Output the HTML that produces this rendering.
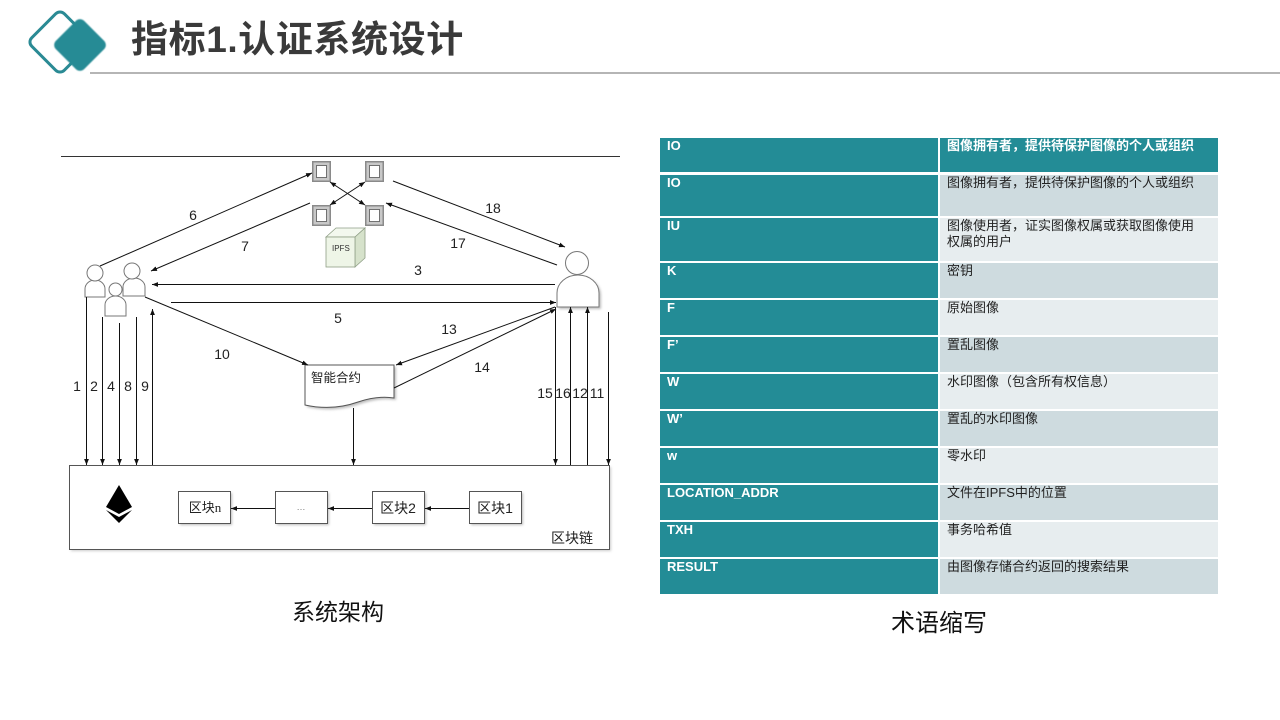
<!DOCTYPE html>
<html><head><meta charset="utf-8">
<style>
html,body{margin:0;padding:0;background:#fff;}
body{width:1280px;height:720px;position:relative;overflow:hidden;font-family:"Liberation Sans","Noto Sans CJK SC",sans-serif;}
.title{position:absolute;left:131px;top:16px;font-size:37px;font-weight:bold;color:#3a3a3a;font-family:"Liberation Sans","Noto Sans CJK SC",sans-serif;letter-spacing:0.6px;line-height:48px;white-space:nowrap;}
.hline{position:absolute;left:90px;top:72px;width:1190px;height:2px;background:#b5b5b5;}
.c1,.c2{position:absolute;box-sizing:border-box;font-size:13px;line-height:16px;}
.c1{left:660px;width:278px;background:#238c96;color:#fff;font-weight:bold;padding:0 0 0 7px;}
.c2{left:940px;width:278px;color:#222;padding:0 0 0 7px;}
.hd{background:#238c96;color:#fff;font-weight:bold;}
.dk{background:#cedbdf;}
.lt{background:#e7edef;}
.cap{position:absolute;font-size:23px;color:#111;line-height:30px;}
</style></head>
<body>
<svg width="1280" height="720" style="position:absolute;left:0;top:0" xmlns="http://www.w3.org/2000/svg">
<defs>
<marker id="a" viewBox="0 0 10 10" refX="10" refY="5" markerWidth="6" markerHeight="6" markerUnits="userSpaceOnUse" orient="auto-start-reverse"><path d="M0,1 L10,5 L0,9 z" fill="#111"/></marker>
<filter id="bl" x="-20%" y="-20%" width="140%" height="140%"><feGaussianBlur stdDeviation="0.6"/></filter>
<filter id="sh" x="-20%" y="-20%" width="140%" height="140%"><feGaussianBlur stdDeviation="1.2"/></filter>
</defs>
<!-- logo -->
<rect x="37" y="19" width="46" height="46" rx="6" transform="rotate(45 60 42)" fill="none" stroke="#2a8a94" stroke-width="3"/>
<rect x="60" y="25" width="40" height="40" rx="6" transform="rotate(45 80 45)" fill="#258b95" filter="url(#bl)"/>

<!-- top line -->
<line x1="61" y1="156.5" x2="620" y2="156.5" stroke="#333" stroke-width="1"/>

<!-- IPFS nodes -->
<g>
<g transform="translate(312,161)"><rect width="19" height="21" fill="#8a8a8a"/><rect x="1.5" y="1.5" width="16" height="18" fill="#c8c8c8"/><rect x="4.5" y="4.5" width="10" height="12" fill="#fff" stroke="#555" stroke-width="0.8"/></g>
<g transform="translate(365,161)"><rect width="19" height="21" fill="#8a8a8a"/><rect x="1.5" y="1.5" width="16" height="18" fill="#c8c8c8"/><rect x="4.5" y="4.5" width="10" height="12" fill="#fff" stroke="#555" stroke-width="0.8"/></g>
<g transform="translate(312,205)"><rect width="19" height="21" fill="#8a8a8a"/><rect x="1.5" y="1.5" width="16" height="18" fill="#c8c8c8"/><rect x="4.5" y="4.5" width="10" height="12" fill="#fff" stroke="#555" stroke-width="0.8"/></g>
<g transform="translate(365,205)"><rect width="19" height="21" fill="#8a8a8a"/><rect x="1.5" y="1.5" width="16" height="18" fill="#c8c8c8"/><rect x="4.5" y="4.5" width="10" height="12" fill="#fff" stroke="#555" stroke-width="0.8"/></g>
</g>
<!-- IPFS cube -->
<path d="M326,237 L336,228 L365,228 L355,237 Z" fill="#f3f8ee" stroke="#8f9f86" stroke-width="0.8"/>
<path d="M355,237 L365,228 L365,258 L355,267 Z" fill="#d6e2cb" stroke="#8f9f86" stroke-width="0.8"/>
<rect x="326" y="237" width="29" height="30" fill="#eef5e7" stroke="#8f9f86" stroke-width="0.8"/>
<text x="332" y="251" font-size="8" fill="#333" font-family="Liberation Sans, sans-serif">IPFS</text>

<!-- persons left -->
<g fill="#fff" stroke="#777" stroke-width="1">
<path d="M85,297 V289 A10 9 0 0 1 105,289 V297 Z" />
<circle cx="95" cy="273" r="8"/>
<path d="M123,296 V287 A11 9 0 0 1 145,287 V296 Z"/>
<circle cx="132" cy="271" r="8"/>
<path d="M105,316 V305 A10.5 9 0 0 1 126,305 V316 Z"/>
<circle cx="115.5" cy="289.5" r="6.5"/>
</g>
<!-- person right -->
<path d="M559,309 V295 A21 18 0 0 1 601,295 V309 Z" fill="#bbb" filter="url(#sh)"/>
<path d="M557,307 V293 A21 18 0 0 1 599,293 V307 Z" fill="#fff" stroke="#777" stroke-width="1"/>
<circle cx="577" cy="263" r="11.5" fill="#fff" stroke="#777" stroke-width="1"/>

<!-- smart contract -->
<path d="M307,367 H396 V400 C384,398 372,400 360,404 C343,410 325,411 307,407 Z" fill="#bbb" filter="url(#sh)"/>
<path d="M305,365 H394 V398 C382,396 370,398 358,402 C341,408 323,409 305,405 Z" fill="#fff" stroke="#555" stroke-width="1"/>
<text x="311" y="382" font-size="12.5" fill="#222" font-family="Liberation Sans, Noto Sans CJK SC, sans-serif">智能合约</text>

<!-- blockchain box -->
<rect x="71" y="467" width="540" height="84" fill="#ccc" filter="url(#sh)"/>
<rect x="69.5" y="465.5" width="540" height="84" fill="#fff" stroke="#555" stroke-width="1"/>
<!-- ethereum -->
<path d="M119,485 L106,507 L119,514 L132,507 Z" fill="#000"/>
<path d="M106,510 L119,517 L132,510 L119,523 Z" fill="#000"/>
<!-- blocks -->
<g fill="#fff" stroke="#555" stroke-width="1">
<rect x="180" y="493" width="52" height="32" fill="#bbb" stroke="none" filter="url(#sh)"/>
<rect x="178.5" y="491.5" width="52" height="32"/>
<rect x="277" y="493" width="52" height="32" fill="#bbb" stroke="none" filter="url(#sh)"/>
<rect x="275.5" y="491.5" width="52" height="32"/>
<rect x="374" y="493" width="52" height="32" fill="#bbb" stroke="none" filter="url(#sh)"/>
<rect x="372.5" y="491.5" width="52" height="32"/>
<rect x="471" y="493" width="52" height="32" fill="#bbb" stroke="none" filter="url(#sh)"/>
<rect x="469.5" y="491.5" width="52" height="32"/>
</g>
<g font-family="Liberation Sans, Noto Sans CJK SC, sans-serif" fill="#222" text-anchor="middle">
<text x="205" y="512" font-size="13">区块<tspan font-family="Liberation Serif, serif">n</tspan></text>
<text x="301" y="510" font-size="9" fill="#777">…</text>
<text x="398" y="513" font-size="14">区块2</text>
<text x="495" y="513" font-size="14">区块1</text>
<text x="572" y="543" font-size="14">区块链</text>
</g>

<!-- connectors -->
<g stroke="#111" stroke-width="1" fill="none">
<line x1="100" y1="266" x2="312" y2="173" marker-end="url(#a)"/>
<line x1="310" y1="203" x2="151" y2="271" marker-end="url(#a)"/>
<line x1="555" y1="284.5" x2="152" y2="284.5" marker-end="url(#a)"/>
<line x1="171" y1="302.5" x2="556" y2="302.5" marker-end="url(#a)"/>
<line x1="393" y1="181" x2="565" y2="247" marker-end="url(#a)"/>
<line x1="557" y1="265" x2="386" y2="203" marker-end="url(#a)"/>
<line x1="330" y1="182" x2="365" y2="205" marker-start="url(#a)" marker-end="url(#a)"/>
<line x1="365" y1="182" x2="330" y2="205" marker-start="url(#a)" marker-end="url(#a)"/>
<line x1="145" y1="297" x2="308" y2="365" marker-end="url(#a)"/>
<line x1="555" y1="307" x2="396" y2="365" marker-end="url(#a)"/>
<line x1="394" y1="388" x2="556" y2="309" marker-end="url(#a)"/>
<line x1="86.5" y1="297" x2="86.5" y2="465" marker-end="url(#a)"/>
<line x1="102.5" y1="317" x2="102.5" y2="465" marker-end="url(#a)"/>
<line x1="119.5" y1="323" x2="119.5" y2="465" marker-end="url(#a)"/>
<line x1="136.5" y1="317" x2="136.5" y2="465" marker-end="url(#a)"/>
<line x1="152.5" y1="465" x2="152.5" y2="309" marker-end="url(#a)"/>
<line x1="353.5" y1="408" x2="353.5" y2="465" marker-end="url(#a)"/>
<line x1="555.5" y1="307" x2="555.5" y2="465" marker-end="url(#a)"/>
<line x1="570.5" y1="465" x2="570.5" y2="307" marker-end="url(#a)"/>
<line x1="587.5" y1="465" x2="587.5" y2="307" marker-end="url(#a)"/>
<line x1="608.5" y1="312" x2="608.5" y2="465" marker-end="url(#a)"/>
<line x1="469" y1="508.5" x2="425" y2="508.5" marker-end="url(#a)"/>
<line x1="372" y1="508.5" x2="328" y2="508.5" marker-end="url(#a)"/>
<line x1="275" y1="508.5" x2="231" y2="508.5" marker-end="url(#a)"/>
</g>

<!-- labels -->
<g font-family="Liberation Sans, sans-serif" font-size="14" fill="#222" text-anchor="middle">
<text x="193" y="220">6</text>
<text x="245" y="251">7</text>
<text x="418" y="275">3</text>
<text x="338" y="323">5</text>
<text x="493" y="213">18</text>
<text x="458" y="248">17</text>
<text x="222" y="359">10</text>
<text x="449" y="334">13</text>
<text x="482" y="372">14</text>
<text x="77" y="391">1</text>
<text x="94" y="391">2</text>
<text x="111" y="391">4</text>
<text x="128" y="391">8</text>
<text x="145" y="391">9</text>
<text x="545" y="398">15</text>
<text x="563" y="398">16</text>
<text x="580" y="398">12</text>
<text x="597" y="398">11</text>
</g>
</svg>

<div class="title">指标1.认证系统设计</div>
<div class="hline"></div>

<!-- table -->
<div class="c1" style="top:138px;height:34px;">IO</div>
<div class="c2 hd" style="top:138px;height:34px;">图像拥有者，提供待保护图像的个人或组织</div>

<div class="c1" style="top:175px;height:41px;">IO</div>
<div class="c2 dk" style="top:175px;height:41px;">图像拥有者，提供待保护图像的个人或组织</div>

<div class="c1" style="top:218px;height:43px;">IU</div>
<div class="c2 lt" style="top:218px;height:43px;">图像使用者，证实图像权属或获取图像使用<br>权属的用户</div>

<div class="c1" style="top:263px;height:35px;">K</div>
<div class="c2 dk" style="top:263px;height:35px;">密钥</div>

<div class="c1" style="top:300px;height:35px;">F</div>
<div class="c2 lt" style="top:300px;height:35px;">原始图像</div>

<div class="c1" style="top:337px;height:35px;">F’</div>
<div class="c2 dk" style="top:337px;height:35px;">置乱图像</div>

<div class="c1" style="top:374px;height:35px;">W</div>
<div class="c2 lt" style="top:374px;height:35px;">水印图像（包含所有权信息）</div>

<div class="c1" style="top:411px;height:35px;">W’</div>
<div class="c2 dk" style="top:411px;height:35px;">置乱的水印图像</div>

<div class="c1" style="top:448px;height:35px;">w</div>
<div class="c2 lt" style="top:448px;height:35px;">零水印</div>

<div class="c1" style="top:485px;height:35px;">LOCATION_ADDR</div>
<div class="c2 dk" style="top:485px;height:35px;">文件在IPFS中的位置</div>

<div class="c1" style="top:522px;height:35px;">TXH</div>
<div class="c2 lt" style="top:522px;height:35px;">事务哈希值</div>

<div class="c1" style="top:559px;height:35px;">RESULT</div>
<div class="c2 dk" style="top:559px;height:35px;">由图像存储合约返回的搜索结果</div>

<div class="cap" style="left:292px;top:597px;">系统架构</div>
<div class="cap" style="left:891px;top:609px;font-size:24px;">术语缩写</div>
</body></html>
